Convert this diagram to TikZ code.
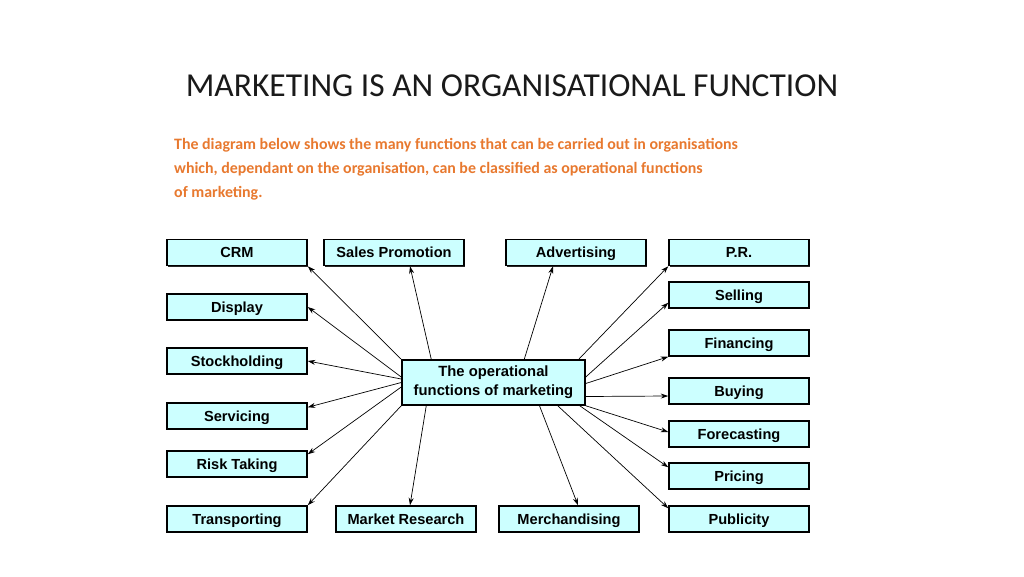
\documentclass[tikz,border=0pt]{standalone}
\usepackage{fontspec}
\setmainfont{Liberation Sans}
\newfontfamily\calfont{Carlito}
\usetikzlibrary{arrows.meta,shadows}
\definecolor{boxfill}{HTML}{CCFFFF}
\definecolor{introorange}{HTML}{E8792F}
\definecolor{titlecol}{HTML}{1A1A1A}
\tikzset{
  fbox/.style={draw=black, line width=1.5pt, fill=boxfill, minimum width=140pt, minimum height=26pt,
    inner sep=0pt, text height=10.4pt, text depth=0pt, font=\fontsize{14.6}{17}\selectfont\bfseries,
    drop shadow={shadow xshift=1.2pt, shadow yshift=-1.2pt, fill=black, opacity=0.85}},
  conn/.style={line width=0.7pt, -{Stealth[length=7.5pt,width=5pt]}},
}
\begin{document}
\begin{tikzpicture}[x=1pt,y=-1pt]
\useasboundingbox[fill=white] (0,0) rectangle (1024,576);
% title
\node[font=\calfont\fontsize{33.5}{38}\selectfont, text=titlecol] (title) at (512,86) {MARKETING IS AN ORGANISATIONAL FUNCTION};
\node[font=\calfont\bfseries\fontsize{15.9}{24}\selectfont, text=introorange, anchor=north west, align=left, inner sep=0pt] (intro) at (174,138.5)
 {The diagram below shows the many functions that can be carried out in organisations\\
  which, dependant on the organisation, can be classified as operational functions\\
  of marketing.};
% boxes
\node[fbox] (crm) at (237,252.5) {CRM};
\node[fbox] (sp) at (394,252.5) {Sales Promotion};
\node[fbox] (adv) at (576,252.5) {Advertising};
\node[fbox] (pr) at (739,252.5) {P.R.};
\node[fbox] (sell) at (739,295) {Selling};
\node[fbox] (disp) at (237,307) {Display};
\node[fbox] (fin) at (739,343) {Financing};
\node[fbox] (stock) at (237,361) {Stockholding};
\node[fbox] (buy) at (739,391) {Buying};
\node[fbox] (serv) at (237,416) {Servicing};
\node[fbox] (fore) at (739,434) {Forecasting};
\node[fbox] (risk) at (237,464) {Risk Taking};
\node[fbox] (pric) at (739,476) {Pricing};
\node[fbox] (trans) at (237,519) {Transporting};
\node[fbox] (mr) at (406,519) {Market Research};
\node[fbox] (merch) at (569,519) {Merchandising};
\node[fbox] (pub) at (739,519) {Publicity};
\node[fbox, minimum width=183pt, minimum height=45pt, align=center, text height=, text depth=, font=\fontsize{14.8}{19}\selectfont\bfseries] (c) at (493.5,382.5)
 {\raisebox{-1.5pt}{The operational}\\\raisebox{-1.5pt}{functions of marketing}};
% connectors
\draw[conn] (c.north west) -- (crm.south east);
\draw[conn] ([xshift=30pt]c.north west) -- ([xshift=16pt]sp.south);
\draw[conn] ([xshift=123pt]c.north west) -- ([xshift=-23pt]adv.south);
\draw[conn] ([xshift=-7pt]c.north east) -- (pr.south west);
\draw[conn] ([yshift=5.5pt]c.east) -- ([yshift=6pt]sell.south west);
\draw[conn] ([yshift=-1pt]c.east) -- (fin.south west);
\draw[conn] ([yshift=-14pt]c.east) -- ([yshift=-5pt]buy.west);
\draw[conn] (c.south east) -- ([yshift=2pt]fore.west);
\draw[conn] ([xshift=-6pt]c.south east) -- ([yshift=-5pt]pric.north west);
\draw[conn] ([xshift=-28pt]c.south east) -- ([yshift=-3pt]pub.north west);
\draw[conn] ([xshift=46pt]c.south) -- ([xshift=9pt]merch.north);
\draw[conn] ([xshift=25pt]c.south west) -- ([xshift=4pt]mr.north);
\draw[conn] (c.south west) -- (trans.north east);
\draw[conn] ([yshift=-4.5pt]c.west) -- ([yshift=-4pt]risk.north east);
\draw[conn] (c.west) -- ([yshift=-5pt]serv.north east);
\draw[conn] ([yshift=3.5pt]c.west) -- (stock.east);
\draw[conn] ([yshift=5.5pt]c.west) -- (disp.east);
\end{tikzpicture}
\end{document}
